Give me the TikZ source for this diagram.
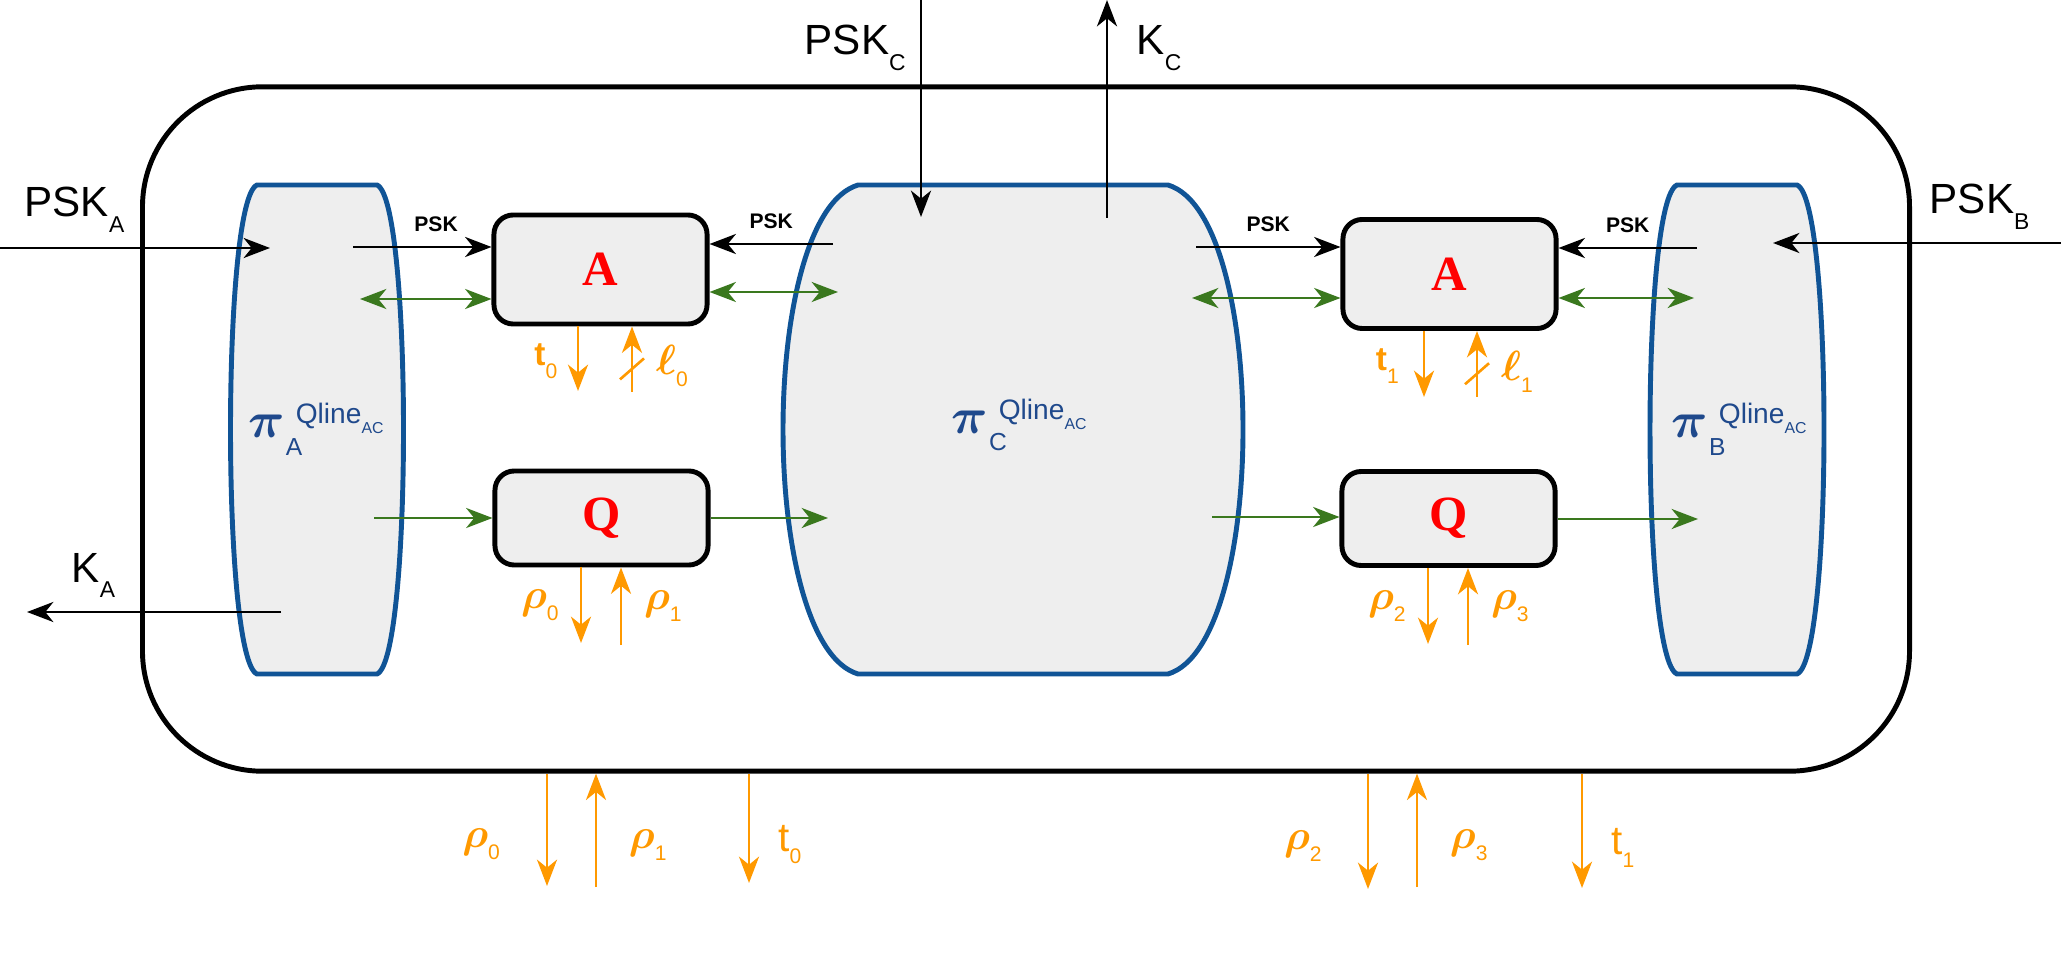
\documentclass[tikz,border=0pt]{standalone}
\usepackage{fontspec}
\setmainfont{Liberation Sans}
\newfontfamily\serifA{Liberation Serif}
\usepackage{amsmath}
\usetikzlibrary{arrows.meta, positioning}

\definecolor{piblue}{RGB}{16,84,150}
\definecolor{pitext}{RGB}{31,73,140}
\definecolor{qgreen}{RGB}{58,120,30}
\definecolor{qorange}{RGB}{255,153,0}
\definecolor{boxgray}{RGB}{238,238,238}

\newcommand{\bigsub}[2]{#1\raisebox{-4.5pt}{\fontsize{6.5}{7}\selectfont #2}}
\newcommand{\osub}[2]{#1\raisebox{-3.5pt}{\fontsize{6}{6}\selectfont\mdseries #2}}
\newcommand{\pilabel}[1]{$\boldsymbol{\pi}$\kern0.3pt\rlap{\raisebox{-5pt}{\fontsize{7}{7}\selectfont #1}}\kern2.8pt\raisebox{4pt}{\fontsize{8}{8}\selectfont Qline\raisebox{-2.8pt}{\fontsize{4.5}{5}\selectfont AC}}}
\newcommand{\pibody}[6]{%
  \draw[pishape] ({#1-#4},#2) -- ({#1+#4},#2)
    .. controls ({#1+#4+(#5-#4)*4/3},{#2+#6}) and ({#1+#4+(#5-#4)*4/3},{#3-#6}) .. ({#1+#4},#3)
    -- ({#1-#4},#3)
    .. controls ({#1-#4-(#5-#4)*4/3},{#3-#6}) and ({#1-#4-(#5-#4)*4/3},{#2+#6}) .. cycle;}

\begin{document}
\begin{tikzpicture}[
    x=0.01cm, y=-0.01cm,
    >={Stealth[length=7.5pt,width=5.7pt,inset=2.3pt]},
    module/.style={rectangle, rounded corners=5.5pt, draw=black, line width=1.4pt, fill=boxgray, minimum width=2.13cm, minimum height=1.09cm, text=red, font=\serifA\bfseries\fontsize{14}{14}\selectfont},
    pishape/.style={draw=piblue, line width=1.4pt, fill=boxgray},
    pilab/.style={text=pitext, inner sep=0, font=\fontsize{14}{14}\selectfont},
    karrow/.style={line width=0.8pt, ->},
    garrow/.style={draw=qgreen, line width=0.7pt, ->},
    gboth/.style={draw=qgreen, line width=0.7pt, <->},
    oarrow/.style={draw=qorange, line width=0.75pt, ->},
    psk/.style={inner sep=0, above=4pt, font=\fontsize{6}{6}\selectfont\bfseries},
    olab/.style={text=qorange, inner sep=0, font=\fontsize{11.5}{11.5}\selectfont},
    extlab/.style={anchor=base west, inner sep=0, font=\fontsize{12}{12}\selectfont}]
\useasboundingbox (0,0) rectangle (2061,961);

\node[draw, line width=1.4pt, rounded corners=1.2cm, minimum width=17.66cm, minimum height=6.84cm] (sys) at (1026,429) {};

\pibody{317}{185}{674}{60}{86.5}{15}
\pibody{1013}{185}{674}{155}{230}{30}
\pibody{1737}{185}{674}{60}{87}{15}
\node[pilab] (piA) at (316,429) {\pilabel{A}};
\node[pilab] (piC) at (1019,425) {\pilabel{C}};
\node[pilab] (piB) at (1739,429) {\pilabel{B}};

\node[module] (modA0) at (600.5,269.5) {A};
\node[module, minimum height=0.94cm] (modQ0) at (601.5,518) {Q};
\node[module] (modA1) at (1449.5,274) {A};
\node[module, minimum height=0.94cm] (modQ1) at (1448.5,518.5) {Q};

\node[extlab] (lPSKA) at (24,217) {\bigsub{PSK}{A}};
\node[extlab] (lKA) at (71,582) {\bigsub{K}{A}};
\node[extlab] (lPSKC) at (804,55) {\bigsub{PSK}{C}};
\node[extlab] (lKC) at (1136,55) {\bigsub{K}{C}};
\node[extlab] (lPSKB) at (1929,214) {\bigsub{PSK}{B}};

\coordinate (pskAin) at (0,248);
\coordinate (pskAend) at (270,248);
\coordinate (kAstart) at (281,612);
\coordinate (kAout) at (27,612);
\coordinate (pskCin) at (921,0);
\coordinate (pskCend) at (921,217);
\coordinate (kCstart) at (1107,218);
\coordinate (kCout) at (1107,0);
\coordinate (pskBin) at (2061,243);
\coordinate (pskBend) at (1773,243);
\coordinate (pA-psk) at (353,247);
\coordinate (pA-cl) at (360,299);
\coordinate (pA-q) at (374,518);
\coordinate (pC-pskL) at (833,244);
\coordinate (pC-clL) at (838,292);
\coordinate (pC-qL) at (828,518);
\coordinate (pC-pskR) at (1196,247);
\coordinate (pC-clR) at (1192,298);
\coordinate (pC-qR) at (1212,517);
\coordinate (pB-psk) at (1697,248);
\coordinate (pB-cl) at (1694,298);
\coordinate (pB-q) at (1698,519);

\draw[karrow] (pskAin) -- (pskAend);
\draw[karrow] (kAstart) -- (kAout);
\draw[karrow] (pskCin) -- (pskCend);
\draw[karrow] (kCstart) -- (kCout);
\draw[karrow] (pskBin) -- (pskBend);
\draw[karrow] (pA-psk) -- (pA-psk -| modA0.west) node[psk, pos=0.6] {PSK};
\draw[karrow] (pC-pskL) -- (pC-pskL -| modA0.east) node[psk, midway] {PSK};
\draw[karrow] (pC-pskR) -- (pC-pskR -| modA1.west) node[psk, midway] {PSK};
\draw[karrow] (pB-psk) -- (pB-psk -| modA1.east) node[psk, midway] {PSK};

\draw[gboth] (pA-cl) -- (pA-cl -| modA0.west);
\draw[gboth] (pC-clL) -- (pC-clL -| modA0.east);
\draw[garrow] (pA-q) -- (pA-q -| modQ0.west);
\draw[garrow] (modQ0.east |- pC-qL) -- (pC-qL);
\draw[gboth] (pC-clR) -- (pC-clR -| modA1.west);
\draw[gboth] (pB-cl) -- (pB-cl -| modA1.east);
\draw[garrow] (pC-qR) -- (pC-qR -| modQ1.west);
\draw[garrow] (modQ1.east |- pB-q) -- (pB-q);

\coordinate (t0end) at (578,391);
\coordinate (l0start) at (632,392);
\coordinate (r0end) at (581,643);
\coordinate (r1start) at (621,645);
\coordinate (t1end) at (1424,397);
\coordinate (l1start) at (1477,397);
\coordinate (r2end) at (1428,644);
\coordinate (r3start) at (1468,645);
\draw[oarrow] (modA0.south -| t0end) -- (t0end) node[olab, pos=0.54, left=5.5pt, font=\fontsize{9.5}{9.5}\selectfont\bfseries] {\osub{t}{0}};
\draw[oarrow] (l0start) -- (l0start |- modA0.south) node[olab, pos=0.4, right=6.5pt, font=\fontsize{12}{12}\selectfont] {\osub{$\boldsymbol{\ell}$}{0}} coordinate[pos=0.36] (bus0);
\draw[qorange, line width=0.75pt] ([shift={(-12,11)}]bus0) -- ([shift={(12,-10)}]bus0);
\draw[oarrow] (modQ0.south -| r0end) -- (r0end) node[olab, midway, left=6pt] {\osub{$\boldsymbol{\rho}$}{0}};
\draw[oarrow] (r1start) -- (r1start |- modQ0.south) node[olab, midway, right=6.2pt] {\osub{$\boldsymbol{\rho}$}{1}};
\draw[oarrow] (modA1.south -| t1end) -- (t1end) node[olab, pos=0.53, left=6.8pt, font=\fontsize{9.5}{9.5}\selectfont\bfseries] {\osub{t}{1}};
\draw[oarrow] (l1start) -- (l1start |- modA1.south) node[olab, pos=0.38, right=6.5pt, font=\fontsize{12}{12}\selectfont] {\osub{$\boldsymbol{\ell}$}{1}} coordinate[pos=0.36] (bus1);
\draw[qorange, line width=0.75pt] ([shift={(-12,11)}]bus1) -- ([shift={(12,-10)}]bus1);
\draw[oarrow] (modQ1.south -| r2end) -- (r2end) node[olab, midway, left=6pt] {\osub{$\boldsymbol{\rho}$}{2}};
\draw[oarrow] (r3start) -- (r3start |- modQ1.south) node[olab, midway, right=6.2pt] {\osub{$\boldsymbol{\rho}$}{3}};

\coordinate (r0out) at (547,886);
\coordinate (r1in) at (596,887);
\coordinate (t0out) at (749,883);
\coordinate (r2out) at (1368,889);
\coordinate (r3in) at (1417,887);
\coordinate (t1out) at (1582,888);
\draw[oarrow] (sys.south -| r0out) -- (r0out) node[olab, pos=0.63, left=13pt] {\osub{$\boldsymbol{\rho}$}{0}};
\draw[oarrow] (r1in) -- (r1in |- sys.south) node[olab, pos=0.37, right=9pt] {\osub{$\boldsymbol{\rho}$}{1}};
\draw[oarrow] (sys.south -| t0out) -- (t0out) node[olab, pos=0.65, right=8pt] {\osub{t}{0}};
\draw[oarrow] (sys.south -| r2out) -- (r2out) node[olab, pos=0.63, left=12.8pt] {\osub{$\boldsymbol{\rho}$}{2}};
\draw[oarrow] (r3in) -- (r3in |- sys.south) node[olab, pos=0.37, right=9pt] {\osub{$\boldsymbol{\rho}$}{3}};
\draw[oarrow] (sys.south -| t1out) -- (t1out) node[olab, pos=0.65, right=8pt] {\osub{t}{1}};
\end{tikzpicture}
\end{document}
